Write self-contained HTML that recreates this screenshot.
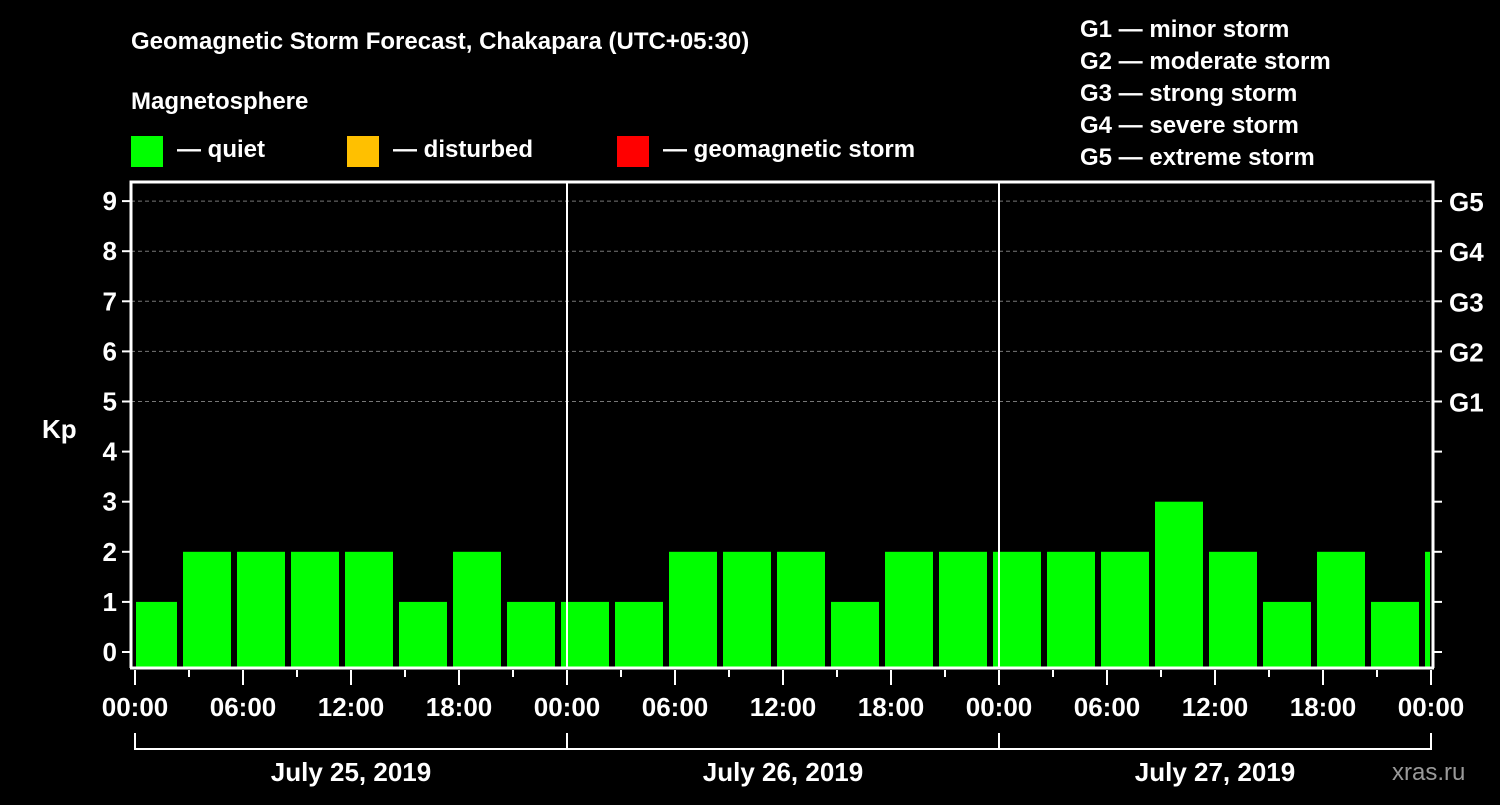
<!DOCTYPE html>
<html><head><meta charset="utf-8"><style>
body{margin:0;background:#000;width:1500px;height:800px;overflow:hidden}
svg text{font-family:"Liberation Sans",sans-serif;font-weight:bold;fill:#fff}
</style></head><body>
<svg width="1500" height="800" xmlns="http://www.w3.org/2000/svg">
<text x="131" y="49" font-size="24">Geomagnetic Storm Forecast, Chakapara (UTC+05:30)</text>
<text x="131" y="109" font-size="24">Magnetosphere</text>
<rect x="131" y="136" width="32" height="31" fill="#00ff00"/>
<text x="177" y="157" font-size="24">— quiet</text>
<rect x="347" y="136" width="32" height="31" fill="#ffc000"/>
<text x="393" y="157" font-size="24">— disturbed</text>
<rect x="617" y="136" width="32" height="31" fill="#ff0000"/>
<text x="663" y="157" font-size="24">— geomagnetic storm</text>
<g font-size="24">
<text x="1080" y="37">G1 — minor storm</text>
<text x="1080" y="69">G2 — moderate storm</text>
<text x="1080" y="101">G3 — strong storm</text>
<text x="1080" y="133">G4 — severe storm</text>
<text x="1080" y="165">G5 — extreme storm</text>
</g>
<text x="42" y="438" font-size="26">Kp</text>
<text x="1392" y="780" font-size="24" fill="#888" style="fill:#999;font-weight:normal">xras.ru</text>
<g id="plot"></g>
</svg>
<script>
const values=[1,2,2,2,2,1,2,1,1,1,2,2,2,1,2,2,2,2,2,3,2,1,2,1,2];
const barStartHours=[-0.5,2.5,5.5,8.5,11.5,14.5,17.5,20.5,23.5,26.5,29.5,32.5,35.5,38.5,41.5,44.5,47.5,50.5,53.5,56.5,59.5,62.5,65.5,68.5,71.5];
const yTicks=[0,1,2,3,4,5,6,7,8,9];
const gLabels=["G1","G2","G3","G4","G5"];
const gLevels=[5,6,7,8,9];
const timeLabels=["00:00","06:00","12:00","18:00","00:00","06:00","12:00","18:00","00:00","06:00","12:00","18:00","00:00"];
const dayLabels=["July 25, 2019","July 26, 2019","July 27, 2019"];
const NS="http://www.w3.org/2000/svg";
const X0=135,PX_H=18,Y0=652,PX_K=50.1,LEFT=131,RIGHT=1433,TOP=182,BOT=668;
const x=h=>X0+h*PX_H;
const y=v=>Y0-v*PX_K;
const g=document.getElementById('plot');
function mk(t,a){const e=document.createElementNS(NS,t);for(const k in a)e.setAttribute(k,a[k]);g.appendChild(e);return e;}
// grid
gLevels.forEach(v=>{const l=mk('line',{x1:LEFT,x2:RIGHT,y1:y(v),y2:y(v),stroke:'#777','stroke-dasharray':'4,3'});

});
// bars
const clip=mk('clipPath',{id:'pc'});
const cr=document.createElementNS(NS,'rect');cr.setAttribute('x',136);cr.setAttribute('y',TOP);cr.setAttribute('width',RIGHT-136-3);cr.setAttribute('height',BOT-TOP);clip.appendChild(cr);
values.forEach((v,i)=>{const r=mk('rect',{x:x(barStartHours[i])+3,y:y(v),width:48,height:BOT-y(v),fill:'#00ff00','clip-path':'url(#pc)'});

});
// day separators
[24,48].forEach(h=>{const l=mk('line',{x1:x(h),x2:x(h),y1:TOP,y2:BOT,stroke:'#fff','stroke-width':2});

});
// frame
const f=mk('path',{d:`M${LEFT} ${BOT}V${TOP}H${RIGHT}V${BOT}`,fill:'none',stroke:'#fff','stroke-width':3});


const xa=mk('line',{x1:LEFT-1,x2:RIGHT+1,y1:BOT,y2:BOT,stroke:'#fff','stroke-width':3});


// y ticks
yTicks.forEach(v=>{mk('line',{x1:LEFT-9,x2:LEFT,y1:y(v),y2:y(v),stroke:'#fff','stroke-width':2});
mk('line',{x1:RIGHT,x2:RIGHT+9,y1:y(v),y2:y(v),stroke:'#fff','stroke-width':2});
const t=mk('text',{x:LEFT-14,y:y(v)+9,'font-size':26,'text-anchor':'end'});t.textContent=v;

});
gLabels.forEach((s,i)=>{const t=mk('text',{x:1449,y:y(gLevels[i])+10,'font-size':26});t.textContent=s;

});
// x ticks
for(let h=0;h<=72;h+=3){const maj=h%6===0;mk('line',{x1:x(h),x2:x(h),y1:BOT+2,y2:BOT+(maj?17:9),stroke:'#fff','stroke-width':2});}
timeLabels.forEach((s,i)=>{const t=mk('text',{x:x(i*6),y:716,'font-size':26,'text-anchor':'middle'});t.textContent=s;

});
// day brackets
const br=mk('path',{d:`M${x(0)} 733V749H${x(72)}V733M${x(24)} 733V749M${x(48)} 733V749`,fill:'none',stroke:'#fff','stroke-width':2});


dayLabels.forEach((s,i)=>{const t=mk('text',{x:x(i*24+12),y:781,'font-size':26,'text-anchor':'middle'});t.textContent=s;

});
</script>
</body></html>
